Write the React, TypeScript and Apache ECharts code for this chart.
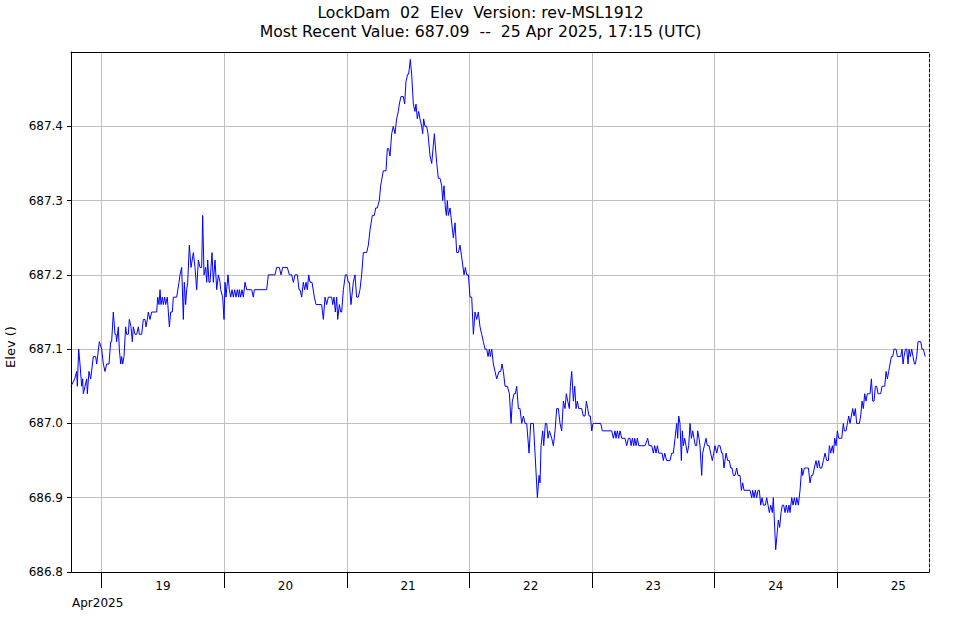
import React, { useEffect, useRef } from "react";
import * as echarts from "echarts";

// ---- text ----
const TITLE = "LockDam  02  Elev  Version: rev-MSL1912";
const SUBTITLE = "Most Recent Value: 687.09  --  25 Apr 2025, 17:15 (UTC)";
const Y_NAME = "Elev ()";
const MONTH_LABEL = "Apr2025";

// ---- x axis: hours since 18 Apr 2025 00:00 UTC ----
const X_MIN = 18;
const X_MAX = 186;
const dayTicks = [24, 48, 72, 96, 120, 144, 168];
const dayLabelPos = [36, 60, 84, 108, 132, 156, 180];
const dayLabels = ["19", "20", "21", "22", "23", "24", "25"];

// ---- y axis ----
const Y_MIN = 686.8;
const Y_MAX = 687.5;
const Y_STEP = 0.1;

// ---- readings: [hours since 18 Apr 00:00 UTC, elevation] ----
const apr18: [number, number][] = [
  [18.0, 687.05], [18.72, 687.06], [19.11, 687.07], [19.24, 687.05], [19.5, 687.1], [19.76, 687.08],
  [20.09, 687.05], [20.28, 687.06], [20.42, 687.04], [20.74, 687.05], [21.07, 687.06], [21.2, 687.04],
  [21.52, 687.07], [21.85, 687.06], [22.37, 687.09], [22.83, 687.09], [23.03, 687.08], [23.55, 687.11],
];
const apr19: [number, number][] = [
  [24.01, 687.1], [24.33, 687.08], [24.66, 687.07], [24.98, 687.08], [25.44, 687.08], [25.77, 687.11],
  [25.96, 687.11], [26.29, 687.15], [26.62, 687.12], [26.81, 687.12], [26.94, 687.11], [27.27, 687.13],
  [27.46, 687.1], [27.73, 687.08], [27.92, 687.09], [28.12, 687.08], [28.38, 687.09], [28.7, 687.13],
  [28.9, 687.12], [29.23, 687.12], [29.42, 687.14], [29.75, 687.13], [30.01, 687.11], [30.21, 687.13],
  [30.53, 687.12], [30.86, 687.12], [31.19, 687.13], [31.38, 687.12], [31.84, 687.12], [32.16, 687.14],
  [32.49, 687.14], [32.69, 687.13], [32.95, 687.14], [33.14, 687.15], [33.47, 687.14], [33.8, 687.15],
  [34.78, 687.15], [34.97, 687.17], [35.23, 687.16], [35.43, 687.18], [35.62, 687.16], [35.88, 687.17],
  [36.08, 687.16], [36.34, 687.17], [36.54, 687.16], [36.86, 687.17], [37.06, 687.15], [37.26, 687.13],
  [37.52, 687.15], [37.84, 687.15], [38.04, 687.17], [38.69, 687.17], [39.15, 687.19], [39.34, 687.2],
  [39.67, 687.21], [40.0, 687.14], [40.19, 687.19], [40.45, 687.16], [40.65, 687.18], [40.85, 687.19],
  [41.17, 687.24], [41.5, 687.21], [41.96, 687.23], [42.28, 687.21], [42.61, 687.18], [42.94, 687.22],
  [43.26, 687.21], [43.59, 687.21], [43.78, 687.28], [44.05, 687.2], [44.37, 687.21], [44.57, 687.19],
  [44.77, 687.22], [45.02, 687.19], [45.22, 687.19], [45.61, 687.23], [45.87, 687.19], [46.2, 687.22],
  [46.53, 687.18], [46.85, 687.2], [47.18, 687.19], [47.31, 687.18], [47.7, 687.17], [47.96, 687.14],
];
const apr20: [number, number][] = [
  [48.16, 687.19], [48.35, 687.17], [48.74, 687.2], [49.0, 687.18], [49.27, 687.17], [49.53, 687.18],
  [49.79, 687.17], [50.05, 687.18], [50.31, 687.17], [50.57, 687.18], [50.83, 687.17], [50.96, 687.18],
  [51.22, 687.17], [51.48, 687.18], [51.75, 687.17], [52.07, 687.19], [52.4, 687.18], [53.38, 687.18],
  [53.7, 687.17], [53.9, 687.18], [56.31, 687.18], [56.64, 687.2], [57.95, 687.2], [58.27, 687.21],
  [58.79, 687.21], [59.12, 687.2], [59.45, 687.21], [60.36, 687.21], [60.75, 687.2], [61.21, 687.2],
  [61.54, 687.19], [61.86, 687.2], [62.32, 687.2], [62.65, 687.18], [62.84, 687.18], [63.17, 687.17],
  [63.49, 687.19], [63.76, 687.18], [64.02, 687.19], [64.28, 687.18], [64.54, 687.2], [64.8, 687.19],
  [65.19, 687.19], [65.65, 687.17], [65.98, 687.16], [67.08, 687.16], [67.41, 687.14], [67.74, 687.17],
  [68.06, 687.16], [68.39, 687.17], [69.04, 687.17], [69.24, 687.16], [69.5, 687.17], [69.76, 687.15],
  [70.02, 687.17], [70.22, 687.14], [70.54, 687.16], [70.81, 687.15], [71.0, 687.15], [71.33, 687.18],
  [71.72, 687.2],
];
const apr21: [number, number][] = [
  [72.0, 687.2], [72.3, 687.19], [72.5, 687.19], [72.82, 687.16], [73.28, 687.19], [73.61, 687.2],
  [73.93, 687.17], [74.26, 687.17], [74.58, 687.18], [74.91, 687.2], [75.24, 687.23], [75.89, 687.23],
  [76.22, 687.24], [76.54, 687.26], [77.0, 687.28], [77.39, 687.28], [77.65, 687.29], [77.98, 687.29],
  [78.37, 687.3], [78.63, 687.32], [79.15, 687.34], [79.68, 687.34], [79.94, 687.37], [80.2, 687.37],
  [80.46, 687.36], [80.79, 687.39], [81.11, 687.4], [81.44, 687.39], [81.76, 687.41], [82.09, 687.42],
  [82.29, 687.43], [82.61, 687.44], [83.07, 687.44], [83.33, 687.43], [83.59, 687.46], [83.92, 687.47],
  [84.11, 687.47], [84.44, 687.49], [84.7, 687.47], [85.03, 687.43], [85.35, 687.42], [85.55, 687.43],
  [85.81, 687.41], [86.07, 687.42], [86.33, 687.41], [86.66, 687.4], [86.86, 687.39], [87.05, 687.41],
  [87.31, 687.4], [87.64, 687.4], [87.9, 687.39], [88.3, 687.36], [88.63, 687.35], [89.15, 687.39],
  [89.61, 687.35], [89.93, 687.33], [90.26, 687.33], [90.58, 687.32], [90.78, 687.3], [91.04, 687.32],
  [91.3, 687.29], [91.5, 687.28], [91.69, 687.3], [91.89, 687.28], [92.22, 687.29], [92.54, 687.27],
  [92.87, 687.25], [93.2, 687.27], [93.52, 687.23], [93.85, 687.23], [94.17, 687.24], [94.57, 687.22],
  [94.96, 687.2], [95.22, 687.21], [95.48, 687.2], [95.81, 687.2],
];
const apr22: [number, number][] = [
  [96.13, 687.17], [96.46, 687.17], [96.79, 687.12], [97.11, 687.15], [97.44, 687.14], [97.76, 687.15],
  [98.09, 687.13], [98.42, 687.12], [98.74, 687.11], [99.07, 687.1], [99.4, 687.1], [99.66, 687.09],
  [99.92, 687.1], [100.11, 687.09], [100.38, 687.1], [100.7, 687.08], [101.03, 687.07], [101.35, 687.06],
  [101.81, 687.07], [102.14, 687.07], [102.4, 687.08], [102.66, 687.07], [102.99, 687.05], [103.44, 687.05],
  [103.84, 687.04], [104.16, 687.0], [104.42, 687.03], [104.75, 687.04], [105.01, 687.04], [105.27, 687.05],
  [105.6, 687.02], [105.92, 687.02], [106.25, 687.0], [106.58, 687.01], [106.9, 687.0], [107.23, 687.0],
  [107.69, 686.96], [108.01, 687.0], [108.54, 687.0], [108.86, 686.96], [109.32, 686.9], [109.64, 686.93],
  [109.84, 686.92], [110.04, 686.97], [110.36, 686.99], [110.56, 686.97], [110.88, 687.0], [111.15, 687.0],
  [111.41, 686.98], [111.67, 686.99], [112.12, 686.98], [112.45, 686.97], [112.78, 686.99], [113.1, 687.02],
  [113.43, 687.02], [113.75, 687.0], [114.08, 686.99], [114.41, 687.03], [114.73, 687.02], [114.99, 687.04],
  [115.26, 687.03], [115.58, 687.02], [115.78, 687.05], [116.04, 687.07], [116.37, 687.03], [116.63, 687.05],
  [116.89, 687.02], [117.15, 687.03], [117.41, 687.02], [117.67, 687.02], [118.0, 687.02], [118.32, 687.01],
  [118.65, 687.01], [118.91, 687.03], [119.17, 687.02], [119.43, 687.01], [119.69, 687.01], [119.96, 686.99],
];
const apr23: [number, number][] = [
  [120.22, 687.0], [120.48, 687.0], [121.72, 687.0], [122.04, 686.99], [123.87, 686.99], [124.2, 686.98],
  [124.52, 686.99], [124.72, 686.98], [124.98, 686.99], [125.24, 686.98], [125.5, 686.99], [125.83, 686.98],
  [126.48, 686.98], [126.81, 686.97], [127.14, 686.98], [127.46, 686.98], [127.66, 686.97], [127.92, 686.98],
  [128.18, 686.97], [128.38, 686.98], [128.64, 686.97], [128.9, 686.98], [129.16, 686.97], [129.42, 686.97],
  [130.4, 686.97], [130.92, 686.98], [131.18, 686.97], [131.71, 686.97], [132.03, 686.96], [132.29, 686.97],
  [132.55, 686.96], [132.82, 686.97], [133.08, 686.96], [133.47, 686.96], [133.73, 686.96], [133.99, 686.95],
  [134.25, 686.96], [134.64, 686.95], [135.29, 686.95], [135.62, 686.96], [135.94, 686.96], [136.27, 686.98],
  [136.6, 687.0], [136.79, 686.98], [136.99, 687.01], [137.25, 687.0], [137.51, 686.95], [137.71, 686.99],
  [137.9, 686.97], [138.16, 686.98], [138.42, 686.97], [138.68, 686.96], [138.95, 686.97], [139.21, 687.0],
  [139.47, 686.98], [139.73, 686.99], [139.99, 686.98], [140.25, 686.97], [140.51, 686.97], [140.71, 686.99],
  [140.97, 686.98], [141.16, 686.97], [141.49, 686.93], [141.69, 686.96], [142.01, 686.97], [142.34, 686.98],
  [142.6, 686.97], [142.93, 686.97], [143.25, 686.96], [143.58, 686.95], [143.84, 686.96],
];
const apr24: [number, number][] = [
  [144.1, 686.97], [144.43, 686.96], [144.75, 686.97], [145.08, 686.97], [145.41, 686.96], [145.6, 686.96],
  [145.86, 686.94], [146.26, 686.96], [146.58, 686.95], [146.91, 686.95], [147.17, 686.94], [147.43, 686.94],
  [147.69, 686.93], [148.02, 686.93], [148.34, 686.94], [148.61, 686.93], [149.0, 686.93], [149.26, 686.91],
  [149.52, 686.92], [149.78, 686.91], [150.17, 686.91], [150.96, 686.91], [151.28, 686.9], [151.48, 686.91],
  [151.74, 686.9], [152.0, 686.91], [152.26, 686.9], [152.52, 686.91], [152.78, 686.91], [153.05, 686.89],
  [153.31, 686.9], [153.57, 686.89], [153.96, 686.89], [154.22, 686.9], [154.48, 686.89], [154.74, 686.88],
  [155.0, 686.89], [155.33, 686.88], [155.52, 686.9], [155.72, 686.87], [155.98, 686.83], [156.24, 686.85],
  [156.5, 686.87], [156.76, 686.86], [157.03, 686.88], [157.29, 686.89], [157.55, 686.89], [157.81, 686.88],
  [158.07, 686.89], [158.33, 686.88], [158.59, 686.89], [158.79, 686.88], [159.12, 686.9], [159.38, 686.89],
  [159.64, 686.9], [159.9, 686.89], [160.1, 686.9], [160.42, 686.89], [160.75, 686.91], [161.07, 686.94],
  [161.27, 686.93], [161.6, 686.94], [162.05, 686.94], [162.38, 686.94], [162.71, 686.92], [162.97, 686.93],
  [163.23, 686.93], [163.55, 686.94], [163.88, 686.95], [164.14, 686.94], [164.4, 686.95], [164.66, 686.94],
  [164.99, 686.94], [165.32, 686.95], [165.64, 686.96], [165.97, 686.95], [166.3, 686.95], [166.49, 686.97],
  [166.75, 686.96], [167.08, 686.97], [167.28, 686.96], [167.54, 686.98], [167.8, 686.97],
];
const apr25: [number, number][] = [
  [168.06, 686.99], [168.32, 686.98], [168.58, 686.98], [168.91, 686.98], [169.23, 687.0], [169.43, 686.99],
  [169.76, 686.99], [170.02, 687.0], [170.28, 687.01], [170.54, 687.0], [170.8, 687.01], [171.06, 687.02],
  [171.32, 687.01], [171.58, 687.02], [171.84, 687.0], [172.11, 687.0], [172.37, 687.0], [172.63, 687.01],
  [172.89, 687.03], [173.15, 687.02], [173.41, 687.04], [173.67, 687.03], [173.93, 687.04], [174.19, 687.04],
  [174.46, 687.04], [174.72, 687.06], [174.98, 687.03], [175.24, 687.03], [175.5, 687.05], [175.76, 687.05],
  [176.02, 687.04], [176.28, 687.04], [176.54, 687.04], [176.81, 687.05], [177.07, 687.05], [177.33, 687.05],
  [177.59, 687.07], [177.85, 687.06], [178.11, 687.07], [178.37, 687.08], [178.63, 687.09], [178.89, 687.09],
  [179.16, 687.1], [179.55, 687.1], [179.81, 687.09], [180.46, 687.09], [180.72, 687.1], [180.92, 687.08],
  [181.11, 687.09], [181.38, 687.1], [181.64, 687.1], [181.9, 687.08], [182.09, 687.1], [182.35, 687.09],
  [182.61, 687.1], [182.87, 687.09], [183.14, 687.08], [183.33, 687.08], [183.59, 687.09], [183.85, 687.11],
  [184.38, 687.11], [184.64, 687.1], [184.9, 687.1], [185.25, 687.09],
];

const FONT = "DejaVu Sans";

export default function App() {
  const ref = useRef<HTMLDivElement>(null);

  useEffect(() => {
    if (!ref.current) return;
    const chart = echarts.init(ref.current, undefined, { renderer: "svg" });
    const data = [...apr18, ...apr19, ...apr20, ...apr21, ...apr22, ...apr23, ...apr24, ...apr25];

    chart.setOption({
      animation: false,
      backgroundColor: "#ffffff",
      textStyle: { fontFamily: FONT },
      title: {
        text: TITLE,
        subtext: SUBTITLE,
        left: "center",
        top: -1,
        itemGap: 2,
        textStyle: { fontFamily: FONT, fontSize: 15.7, fontWeight: "normal", color: "#000", lineHeight: 17 },
        subtextStyle: { fontFamily: FONT, fontSize: 15.7, fontWeight: "normal", color: "#000", lineHeight: 17 },
      },
      grid: { left: 71, right: 32, top: 52, bottom: 48, containLabel: false, outerBoundsMode: "none" },
      xAxis: [
        {
          type: "value",
          position: "bottom",
          min: X_MIN,
          max: X_MAX,
          axisLine: { show: true, onZero: false, lineStyle: { color: "#000", width: 1 } },
          axisTick: { show: true, length: 16, customValues: dayTicks, lineStyle: { color: "#000" } },
          axisLabel: {
            show: true,
            customValues: dayLabelPos,
            margin: 8,
            fontSize: 12,
            color: "#000",
            fontFamily: FONT,
            formatter: (v: number) => {
              const i = dayLabelPos.indexOf(Math.round(v));
              return i >= 0 ? dayLabels[i] : "";
            },
          },
          splitLine: { show: true, lineStyle: { color: "#c0c0c0", width: 1 } },
        },
        {
          type: "value",
          position: "top",
          min: X_MIN,
          max: X_MAX,
          axisLine: { show: true, onZero: false, lineStyle: { color: "#000", width: 1 } },
          axisTick: { show: false },
          axisLabel: { show: false },
          splitLine: { show: false },
        },
      ],
      yAxis: [
        {
          type: "value",
          position: "left",
          min: Y_MIN,
          max: Y_MAX,
          interval: Y_STEP,
          axisLine: { show: true, onZero: false, lineStyle: { color: "#000", width: 1 } },
          axisTick: { show: true, length: 4, lineStyle: { color: "#000" } },
          axisLabel: {
            show: true,
            margin: 8,
            fontSize: 12,
            color: "#000",
            fontFamily: FONT,
            showMaxLabel: false,
            formatter: (v: number) => v.toFixed(1),
          },
          splitLine: { show: true, lineStyle: { color: "#c0c0c0", width: 1 } },
        },
        {
          type: "value",
          position: "right",
          min: Y_MIN,
          max: Y_MAX,
          axisLine: { show: true, onZero: false, lineStyle: { color: "#000", width: 1, type: [3, 2] } },
          axisTick: { show: false },
          axisLabel: { show: false },
          splitLine: { show: false },
        },
      ],
      graphic: [
        {
          type: "text",
          left: 72,
          top: 597,
          style: { text: MONTH_LABEL, fontFamily: FONT, fontSize: 12, fill: "#000" },
        },
        {
          type: "text",
          x: 10,
          y: 347,
          rotation: Math.PI / 2,
          style: {
            text: Y_NAME,
            fontFamily: FONT,
            fontSize: 13,
            fill: "#000",
            align: "center",
            verticalAlign: "middle",
          },
        },
      ],
      series: [
        {
          type: "line",
          xAxisIndex: 0,
          yAxisIndex: 0,
          data,
          showSymbol: false,
          symbol: "none",
          smooth: false,
          lineStyle: { color: "#0000ff", width: 1 },
          itemStyle: { color: "#0000ff" },
        },
      ],
    });

    return () => chart.dispose();
  }, []);

  return <div ref={ref} style={{ width: 961, height: 620, position: "absolute", left: 0, top: 0 }} />;
}
